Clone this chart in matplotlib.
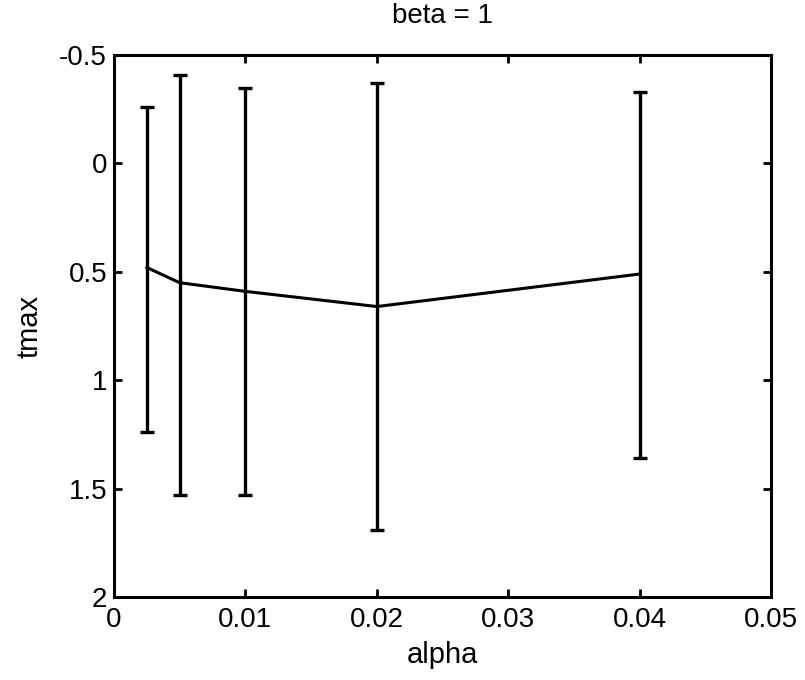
import matplotlib
matplotlib.use("Agg")
import matplotlib.pyplot as plt

plt.rcParams['font.family'] = ['Liberation Sans', 'DejaVu Sans']

alpha = [0.0025, 0.005, 0.01, 0.02, 0.04]
tmax_mean = [0.48, 0.55, 0.59, 0.66, 0.51]
tmax_low = [-0.26, -0.41, -0.35, -0.37, -0.33]
tmax_high = [1.24, 1.53, 1.53, 1.69, 1.36]

xticks = [0, 0.01, 0.02, 0.03, 0.04, 0.05]
xtick_labels = ['0', '0.01', '0.02', '0.03', '0.04', '0.05']
yticks = [-0.5, 0, 0.5, 1, 1.5, 2]
ytick_labels = ['-0.5', '0', '0.5', '1', '1.5', '2']

fig = plt.figure(figsize=(8.05, 6.8), dpi=100)
ax = fig.add_axes([0.1416, 0.122, 0.8164, 0.797])

yerr = [[m - lo for m, lo in zip(tmax_mean, tmax_low)],
        [hi - m for m, hi in zip(tmax_mean, tmax_high)]]
ax.errorbar(alpha, tmax_mean, yerr=yerr, color='black', linewidth=2.2,
            elinewidth=2.4, capsize=5, capthick=2.4)

ax.set_xlim(0, 0.05)
ax.set_ylim(2, -0.5)
ax.set_xticks(xticks)
ax.set_xticklabels(xtick_labels)
ax.set_yticks(yticks)
ax.set_yticklabels(ytick_labels)
ax.tick_params(direction='in', length=6, width=2, top=True, right=True,
               labelsize=20)
ax.tick_params(axis='x', pad=7)
ax.tick_params(axis='y', pad=5)
for s in ax.spines.values():
    s.set_linewidth(2.2)

ax.set_title('beta = 1', fontsize=20, pad=23)
ax.set_xlabel('alpha', fontsize=21, labelpad=6)
ax.set_ylabel('tmax', fontsize=21, labelpad=11)

fig.savefig('out.png', dpi=100)
